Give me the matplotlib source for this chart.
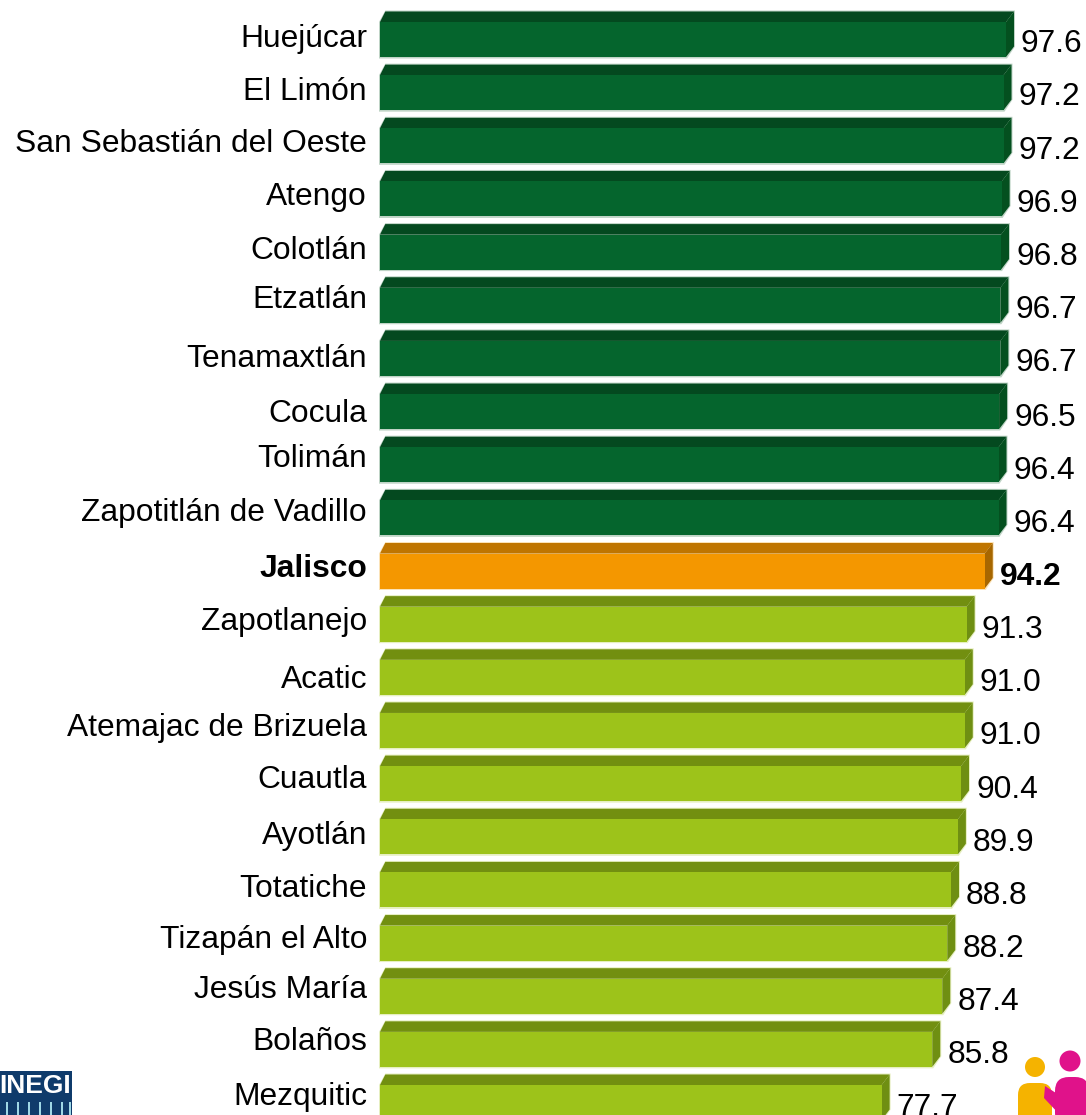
import matplotlib
matplotlib.use("Agg")
import matplotlib.pyplot as plt
from matplotlib.patches import Polygon, Circle, Rectangle, FancyBboxPatch

plt.rcParams['font.family'] = ['Liberation Sans', 'DejaVu Sans']

municipios = ["Huejúcar", "El Limón", "San Sebastián del Oeste", "Atengo", "Colotlán",
              "Etzatlán", "Tenamaxtlán", "Cocula", "Tolimán", "Zapotitlán de Vadillo",
              "Jalisco", "Zapotlanejo", "Acatic", "Atemajac de Brizuela", "Cuautla",
              "Ayotlán", "Totatiche", "Tizapán el Alto", "Jesús María", "Bolaños", "Mezquitic"]
valores = [97.6, 97.2, 97.2, 96.9, 96.8, 96.7, 96.7, 96.5, 96.4, 96.4,
           94.2, 91.3, 91.0, 91.0, 90.4, 89.9, 88.8, 88.2, 87.4, 85.8, 77.7]
grupo = ["alto"] * 10 + ["estado"] + ["bajo"] * 10

# layout only
W, H = 1086, 1115
FS = 22.9
COL = {"alto": ("#05652D", "#04491F", "#04501F", "#BFD4C6"),
       "estado": ("#F49700", "#BF7500", "#A76700", "#FBE3B8"),
       "bajo": ("#9DC31A", "#728F10", "#6F8F12", "#E6EFC0")}
PX_UNIT, PX_REF, VAL_REF = 6.25, 1006.0, 97.6
X_START_PX, Y0_PX, PITCH_PX, BAR_PX = 380.0, 39.5, 53.15, 35.0
DX, DY = 8.0, 10.5
label_nudge = [0, -1, -2, -2, -1, -5, 1, 2, -6, -5, -2, -2, 3, -2, -4, -1, -1, -3, -6, -7, -6]
value_nudge = [4, 4, 5, 5, 5, 5, 5, 6, 6, 6, 6, 6, 6, 6, 6, 6, 6, 6, 6, 6, 6]

fig = plt.figure(figsize=(W / 100, H / 100), dpi=100, facecolor="white")
ax = fig.add_axes([0, 0, 1, 1])
ax.set_xlim(VAL_REF - (PX_REF - 0) / PX_UNIT, VAL_REF + (W - PX_REF) / PX_UNIT)
ax.set_ylim((H - Y0_PX) / PITCH_PX, -Y0_PX / PITCH_PX)
ax.axis("off")

x_start = VAL_REF - (PX_REF - X_START_PX) / PX_UNIT
ux, uy = 1 / PX_UNIT, 1 / PITCH_PX
h = BAR_PX * uy
dx, dy = DX * ux, DY * uy

for i, (name, v, g) in enumerate(zip(municipios, valores, grupo)):
    front, top, side, halo = COL[g]
    t, b = i - h / 2, i + h / 2
    # soft halo under the bar
    ax.add_patch(Polygon([(x_start - ux, t), (x_start + 2 * dx / 3, t - dy - uy), (v + dx + ux, t - dy - uy),
                          (v + dx + ux, b - dy), (v + ux, b + 1.5 * uy), (x_start - ux, b + 1.5 * uy)],
                         closed=True, fc=halo, ec="none", zorder=1))
    ax.barh(i, v - x_start, left=x_start, height=h, color=front, edgecolor="none", zorder=3)
    ax.add_patch(Polygon([(x_start, t), (x_start + 2 * dx / 3, t - dy), (v + dx, t - dy), (v, t)],
                         closed=True, fc=top, ec="none", zorder=2))
    ax.add_patch(Polygon([(v, t), (v + dx, t - dy), (v + dx, b - dy), (v, b)],
                         closed=True, fc=side, ec="none", zorder=2))
    weight = "bold" if g == "estado" else "normal"
    ax.annotate(name, xy=(x_start, i), xytext=(-13 * 0.72, -label_nudge[i] * 0.72), textcoords="offset points",
                ha="right", va="center", fontsize=FS, fontweight=weight, color="black")
    ax.annotate(f"{v:.1f}", xy=(v + dx, i), xytext=(7 * 0.72, -value_nudge[i] * 0.72), textcoords="offset points",
                ha="left", va="center", fontsize=FS, fontweight=weight, color="black")

# logos, drawn in pixel coordinates
deco = fig.add_axes([0, 0, 1, 1], facecolor="none")
deco.set_xlim(0, W)
deco.set_ylim(H, 0)
deco.axis("off")
deco.add_patch(Rectangle((0, 1071), 72, 44, fc="#0F3B6B", ec="none"))
deco.text(71, 1086, "INEGI", ha="right", va="center", fontsize=19, fontweight="bold", color="white")
for x in [6, 17, 28, 39, 50, 61, 69]:
    deco.add_patch(Rectangle((x, 1102), 2, 13, fc="#9FD8E6", ec="none"))
deco.add_patch(Circle((1035, 1067), 10, fc="#F5B300", ec="none"))
deco.add_patch(FancyBboxPatch((1018, 1083), 34, 50, boxstyle="round,pad=0,rounding_size=12",
                              fc="#F5B300", ec="none"))
deco.add_patch(Circle((1070, 1061), 10.5, fc="#E0128A", ec="none"))
deco.add_patch(FancyBboxPatch((1055, 1077), 34, 50, boxstyle="round,pad=0,rounding_size=14",
                              fc="#E0128A", ec="none"))
deco.add_patch(Polygon([(1045, 1086), (1078, 1107), (1078, 1115), (1060, 1115), (1044, 1098)],
                       closed=True, fc="#E0128A", ec="none"))

fig.savefig("out.png", dpi=100, facecolor="white")
